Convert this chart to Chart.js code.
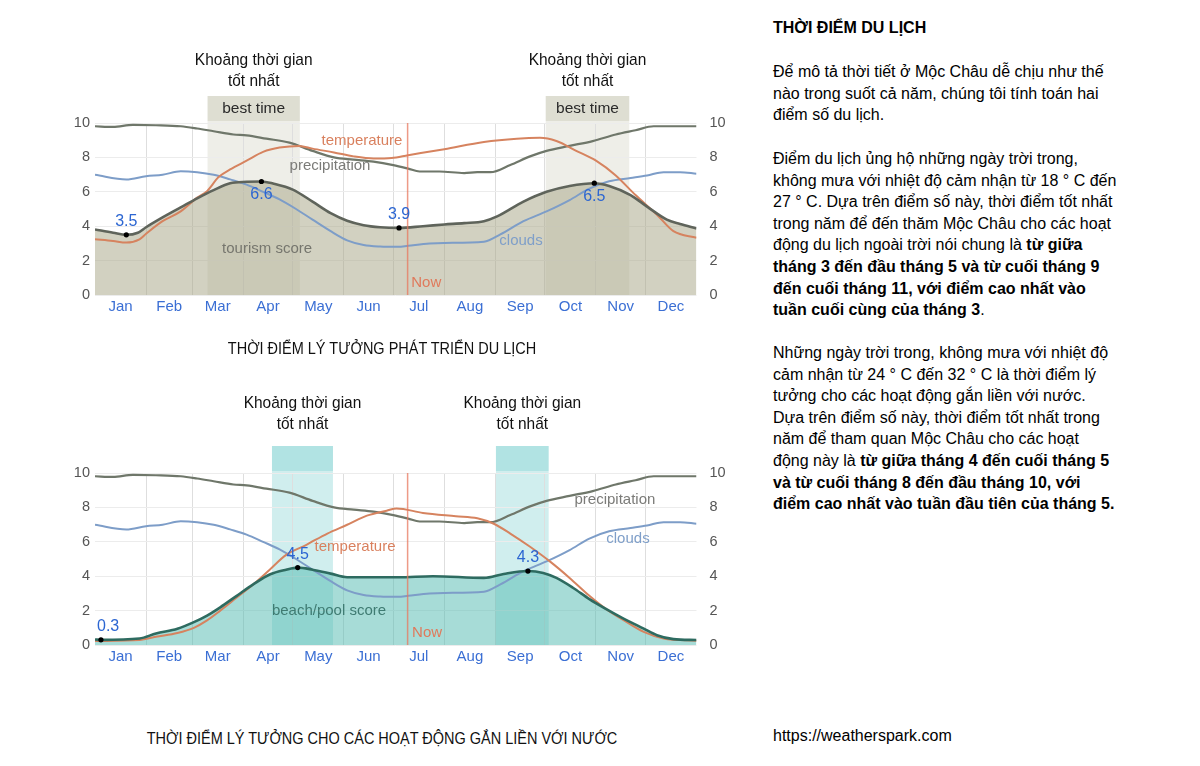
<!DOCTYPE html>
<html>
<head>
<meta charset="utf-8">
<script src="https://cdn.jsdelivr.net/npm/chart.js@4.4.1/dist/chart.umd.min.js"></script>
<style>
  html,body{margin:0;padding:0;background:#fff;}
  body{width:1200px;height:766px;overflow:hidden;position:relative;font-family:"Liberation Sans",Arial,sans-serif;color:#000;}
  .wrap{position:absolute;left:50px;width:690px;height:330px;}
  .caption{position:absolute;font-family:"Liberation Sans",Arial,sans-serif;font-size:16px;color:#111;white-space:nowrap;transform:translateX(-50%) scaleX(0.905);line-height:20px;}
  .side{position:absolute;left:773px;font-size:16px;line-height:21.6px;white-space:nowrap;color:#000;}
  .side b{font-weight:bold;}
</style>
</head>
<body>
<div class="wrap" style="top:0px;"><canvas id="c1" width="690" height="330"></canvas></div>
<div class="wrap" style="top:350px;"><canvas id="c2" width="690" height="330"></canvas></div>

<div class="caption" style="left:382px;top:339px;">THỜI ĐIỂM LÝ TƯỞNG PHÁT TRIỂN DU LỊCH</div>
<div class="caption" style="left:382px;top:729px;">THỜI ĐIỂM LÝ TƯỞNG CHO CÁC HOẠT ĐỘNG GẮN LIỀN VỚI NƯỚC</div>

<div class="side" style="top:17px;font-weight:bold;">THỜI ĐIỂM DU LỊCH</div>
<div class="side" style="top:61px;">Để mô tả thời tiết ở Mộc Châu dễ chịu như thế<br>nào trong suốt cả năm, chúng tôi tính toán hai<br>điểm số du lịch.</div>
<div class="side" style="top:148px;">Điểm du lịch ủng hộ những ngày trời trong,<br>không mưa với nhiệt độ cảm nhận từ 18 ° C đến<br>27 ° C. Dựa trên điểm số này, thời điểm tốt nhất<br>trong năm để đến thăm Mộc Châu cho các hoạt<br>động du lịch ngoài trời nói chung là <b>từ giữa</b><br><b>tháng 3 đến đầu tháng 5 và từ cuối tháng 9</b><br><b>đến cuối tháng 11, với điểm cao nhất vào</b><br><b>tuần cuối cùng của tháng 3</b>.</div>
<div class="side" style="top:342px;">Những ngày trời trong, không mưa với nhiệt độ<br>cảm nhận từ 24 ° C đến 32 ° C là thời điểm lý<br>tưởng cho các hoạt động gắn liền với nước.<br>Dựa trên điểm số này, thời điểm tốt nhất trong<br>năm để tham quan Mộc Châu cho các hoạt<br>động này là <b>từ giữa tháng 4 đến cuối tháng 5</b><br><b>và từ cuối tháng 8 đến đầu tháng 10, với</b><br><b>điểm cao nhất vào tuần đầu tiên của tháng 5.</b></div>
<div class="side" style="top:725px;">https://weatherspark.com</div>

<script>
// ---------- categories / ticks ----------
const monthNames = ["Jan","Feb","Mar","Apr","May","Jun","Jul","Aug","Sep","Oct","Nov","Dec"];
const monthStarts = [0,31,59,90,120,151,181,212,243,273,304,334,365];
const yTicks = [0,2,4,6,8,10];
const nowDay = 189.7;

// ---------- shared series (day of year, score 0-10) ----------
const precipDays = [0,11,23,37,52,62,72,84,92,104,118,132,145,157,169,181,190,197,209,224,232,240,252,264,274,288,302,316,328,339,351,365];
const precipValues = [9.81,9.77,9.89,9.87,9.81,9.68,9.52,9.33,9.28,9.09,8.86,8.38,8.0,7.87,7.75,7.55,7.35,7.18,7.18,7.09,7.14,7.14,7.56,8.06,8.38,8.67,8.95,9.33,9.58,9.81,9.81,9.81];

const cloudDays = [0,19,31,41,52,62,72,82,92,102,112,122,132,143,153,163,173,184,190,203,212,236,246,260,274,288,300,312,325,335,345,355,365];
const cloudValues = [6.99,6.72,6.91,6.99,7.2,7.14,6.99,6.72,6.42,6.0,5.56,5.0,4.38,3.71,3.18,2.91,2.82,2.8,2.86,2.99,3.03,3.1,3.52,4.29,4.86,5.52,6.19,6.61,6.8,6.95,7.14,7.14,7.05];

// ---------- tourism chart ----------
const tourismDays = [0,11,19,26,31,41,52,62,72,82,92,101,108,120,132,143,153,163,173,184.5,199,212,224,236,244,260,274,288,303,312,325,335,347,355,365];
const tourismScore = [3.81,3.62,3.5,3.62,3.94,4.51,5.09,5.62,6.10,6.50,6.58,6.6,6.48,6.13,5.43,4.76,4.32,4.06,3.94,3.9,4.0,4.1,4.18,4.29,4.57,5.43,6.0,6.34,6.5,6.34,5.81,5.14,4.38,4.13,3.87];
const tourismTempDays = [0,11,19,27,31,41,52,62,68,75,82,92,102,112,124,132,145,157,169,180,190,212,236,256,270,280,292,304,316,328,341,351,365];
const tourismTemp = [3.24,3.14,3.05,3.24,3.56,4.29,4.86,5.66,6.04,6.86,7.3,7.81,8.32,8.57,8.67,8.51,8.29,8.06,7.94,7.97,8.13,8.48,8.9,9.09,9.14,8.95,8.38,7.81,6.95,5.81,4.67,3.71,3.33];
const tourismPeakDays = [19,101,184.5,303];
const tourismPeakValues = [3.5,6.6,3.9,6.5];
const tourismPeakSide = [-1,1,-1,1];
const tourismBands = [[68.3,124.3],[273.5,324.2]];

// ---------- beach/pool chart ----------
const beachDays = [0,3.6,27,37,50,60,68,76,86,96,106,116,123,132,143,153,173,184,205,236,248,262.7,272,280,290,300,310,321,333,341,351,365];
const beachScore = [0.32,0.3,0.38,0.67,0.95,1.33,1.71,2.19,2.86,3.52,4.1,4.38,4.5,4.38,4.15,3.94,3.94,3.94,4.0,3.9,4.13,4.3,4.19,3.9,3.33,2.67,2.1,1.52,0.95,0.57,0.34,0.29];
const beachTempDays = [0,27,37,50,60,68,76,86,96,106,116,128,141,153,165,177,183,199,219,232,242,252,264,276,288,300,310,321,333,345,365];
const beachTemp = [0.23,0.29,0.48,0.7,1.0,1.43,2.0,2.76,3.52,4.38,5.24,5.81,6.48,6.99,7.52,7.81,7.94,7.68,7.49,7.37,7.05,6.48,5.71,4.86,3.9,2.86,2.1,1.43,0.76,0.38,0.25];
const beachPeakDays = [3.6,123,262.7];
const beachPeakValues = [0.3,4.5,4.3];
const beachPeakSide = [-1,-1,-1];
const beachBands = [[107.4,144.4],[243.3,275.3]];

// ---------- series label anchors (day, value) ----------
const tourismLabels = [
  {text:"temperature", day:162, value:8.95, color:"#d9805e"},
  {text:"precipitation", day:142.6, value:7.5, color:"#7b7b78"},
  {text:"tourism score", day:104.4, value:2.67, color:"#76766e"},
  {text:"clouds", day:258.5, value:3.14, color:"#7f9fc9"},
  {text:"Now", day:201, value:0.7, color:"#e07a5c"}
];
const beachLabels = [
  {text:"precipitation", day:315.5, value:8.43, color:"#7b7b78"},
  {text:"clouds", day:323.4, value:6.16, color:"#7f9fc9"},
  {text:"temperature", day:157.8, value:5.7, color:"#d9805e"},
  {text:"beach/pool score", day:142, value:1.98, color:"#3f7b72"},
  {text:"Now", day:201.5, value:0.7, color:"#e07a5c"}
];
const bandTitle = ["Khoảng thời gian","tốt nhất"];

function pts(days, vals){ return days.map((d,i)=>({x:d,y:vals[i]})); }

const xTickValues = [];
for (let i=0;i<12;i++){ xTickValues.push(monthStarts[i]); xTickValues.push((monthStarts[i]+monthStarts[i+1])/2); }

function narrowText(ctx, text, cx, cy, sx){
  ctx.save(); ctx.translate(cx, cy); ctx.scale(sx, 1); ctx.fillText(text, 0, 0); ctx.restore();
}

const overlayPlugin = {
  id:'overlay',
  beforeDraw(chart){
    const o = chart.options.plugins.overlay;
    const {ctx, chartArea:a, scales:{x}} = chart;
    ctx.save();
    o.bands.forEach(b=>{
      const x0 = x.getPixelForValue(b[0]), x1 = x.getPixelForValue(b[1]);
      ctx.fillStyle = o.boxColor;
      ctx.fillRect(x0, a.top-27, x1-x0, 25);
      ctx.fillStyle = o.bandColor;
      ctx.fillRect(x0, a.top-2, x1-x0, a.bottom-a.top+2);
      ctx.textAlign='center'; ctx.textBaseline='middle';
      if (o.boxLabel){
        ctx.fillStyle = '#2a2a2a';
        ctx.font = '15.5px "Liberation Sans", Arial, sans-serif';
        ctx.fillText(o.boxLabel, (x0+x1)/2, a.top-14);
      }
      ctx.fillStyle = '#111';
      ctx.font = '17px "Liberation Sans", Arial, sans-serif';
      narrowText(ctx, bandTitle[0], (x0+x1)/2, a.top+o.titleOffset, 0.91);
      narrowText(ctx, bandTitle[1], (x0+x1)/2, a.top+o.titleOffset+21, 0.91);
    });
    ctx.restore();
  },
  afterDatasetsDraw(chart){
    const o = chart.options.plugins.overlay;
    const {ctx, chartArea:a, scales:{x,y}} = chart;
    ctx.save();
    // Now line
    const nx = x.getPixelForValue(nowDay);
    ctx.strokeStyle = 'rgba(232,120,95,0.75)';
    ctx.lineWidth = 1.5;
    ctx.beginPath(); ctx.moveTo(nx, a.top); ctx.lineTo(nx, a.bottom); ctx.stroke();
    // series labels
    ctx.font = '15px "Liberation Sans", Arial, sans-serif';
    ctx.textAlign='center'; ctx.textBaseline='middle';
    o.labels.forEach(l=>{
      const px = x.getPixelForValue(l.day), py = y.getPixelForValue(l.value);
      ctx.fillStyle = l.color;
      ctx.fillText(l.text, px, py);
    });
    // peak labels
    ctx.font = '16px "Liberation Sans", Arial, sans-serif';
    ctx.fillStyle = '#2c66d2';
    o.peakDays.forEach((d,i)=>{
      const t = o.peakValues[i].toFixed(1);
      const hw = ctx.measureText(t).width/2;
      let px = x.getPixelForValue(d);
      px = Math.max(px, a.left + hw + 2);
      const py = y.getPixelForValue(o.peakValues[i]);
      ctx.fillText(t, px, py + o.peakSide[i]*13);
    });
    ctx.restore();
  }
};

function makeChart(id, cfg){
  const yCommon = {
    min:0, max:10,
    afterBuildTicks(s){ s.ticks = yTicks.map(v=>({value:v})); },
    ticks:{color:'#555', font:{size:14.5, family:'"Liberation Sans", Arial, sans-serif'}, padding:5},
    border:{display:false}
  };
  return new Chart(document.getElementById(id), {
    type:'line',
    data:{datasets:[
      {label:'score', data:pts(cfg.scoreDays, cfg.scoreValues), borderColor:cfg.scoreLine, borderWidth:2.6,
       backgroundColor:cfg.fill, fill:'origin', pointRadius:0, tension:0.4, cubicInterpolationMode:'monotone', order:1},
      {label:'peaks', data:pts(cfg.peakDays, cfg.peakValues), showLine:false, pointRadius:2.6,
       pointBackgroundColor:'#000', pointBorderWidth:0, order:0},
      {label:'temperature', data:pts(cfg.tempDays, cfg.tempValues), borderColor:'#d6835f', borderWidth:2,
       pointRadius:0, tension:0.4, cubicInterpolationMode:'monotone', fill:false, order:2},
      {label:'clouds', data:pts(cloudDays, cloudValues), borderColor:'#7d9dc8', borderWidth:2,
       pointRadius:0, tension:0.4, cubicInterpolationMode:'monotone', fill:false, order:3},
      {label:'precipitation', data:pts(precipDays, precipValues), borderColor:'#6f776a', borderWidth:2.2,
       pointRadius:0, tension:0.4, cubicInterpolationMode:'monotone', fill:false, order:4}
    ]},
    options:{
      responsive:false, animation:false, parsing:true,
      layout:{padding:{top:123, left:0, right:0, bottom:0}},
      plugins:{
        legend:{display:false}, tooltip:{enabled:false},
        filler:{drawTime:'beforeDatasetsDraw'},
        overlay:{bands:cfg.bands, bandColor:cfg.bandColor, boxColor:cfg.boxColor, boxLabel:cfg.boxLabel,
                 titleOffset:cfg.titleOffset, labels:cfg.labels,
                 peakDays:cfg.peakDays, peakValues:cfg.peakValues, peakSide:cfg.peakSide}
      },
      scales:{
        x:{type:'linear', min:0, max:365,
           afterBuildTicks(s){ s.ticks = xTickValues.map(v=>({value:v})); },
           afterFit(s){ s.height = 35; },
           ticks:{autoSkip:false, maxRotation:0, padding:3, color:'#3b6fd4',
                  font:{size:15, family:'"Liberation Sans", Arial, sans-serif'},
                  callback:(v,i)=> (i%2===1) ? monthNames[(i-1)/2] : ''},
           grid:{drawTicks:false, lineWidth:1,
                 color:(c)=> (c.index%2===0 && c.index>0) ? '#dedede' : 'rgba(0,0,0,0)'},
           border:{display:false}},
        y:Object.assign({}, yCommon, {position:'left', afterFit(s){ s.width = 45; },
           grid:{color:'#ececec', drawTicks:false}}),
        y2:Object.assign({}, yCommon, {position:'right', afterFit(s){ s.width = 43.5; },
           grid:{display:false}})
      }
    },
    plugins:[overlayPlugin]
  });
}

makeChart('c1', {
  scoreDays:tourismDays, scoreValues:tourismScore, scoreLine:'#5f645b', fill:'rgba(166,164,132,0.5)',
  tempDays:tourismTempDays, tempValues:tourismTemp,
  peakDays:tourismPeakDays, peakValues:tourismPeakValues, peakSide:tourismPeakSide,
  bands:tourismBands, bandColor:'rgba(200,200,180,0.3)', boxColor:'rgba(200,200,180,0.6)', boxLabel:'best time',
  titleOffset:-63, labels:tourismLabels
});
makeChart('c2', {
  scoreDays:beachDays, scoreValues:beachScore, scoreLine:'#2e6b60', fill:'rgba(80,185,175,0.5)',
  tempDays:beachTempDays, tempValues:beachTemp,
  peakDays:beachPeakDays, peakValues:beachPeakValues, peakSide:beachPeakSide,
  bands:beachBands, bandColor:'rgba(100,200,200,0.3)', boxColor:'rgba(100,200,200,0.5)', boxLabel:'',
  titleOffset:-70, labels:beachLabels
});
</script>
</body>
</html>
